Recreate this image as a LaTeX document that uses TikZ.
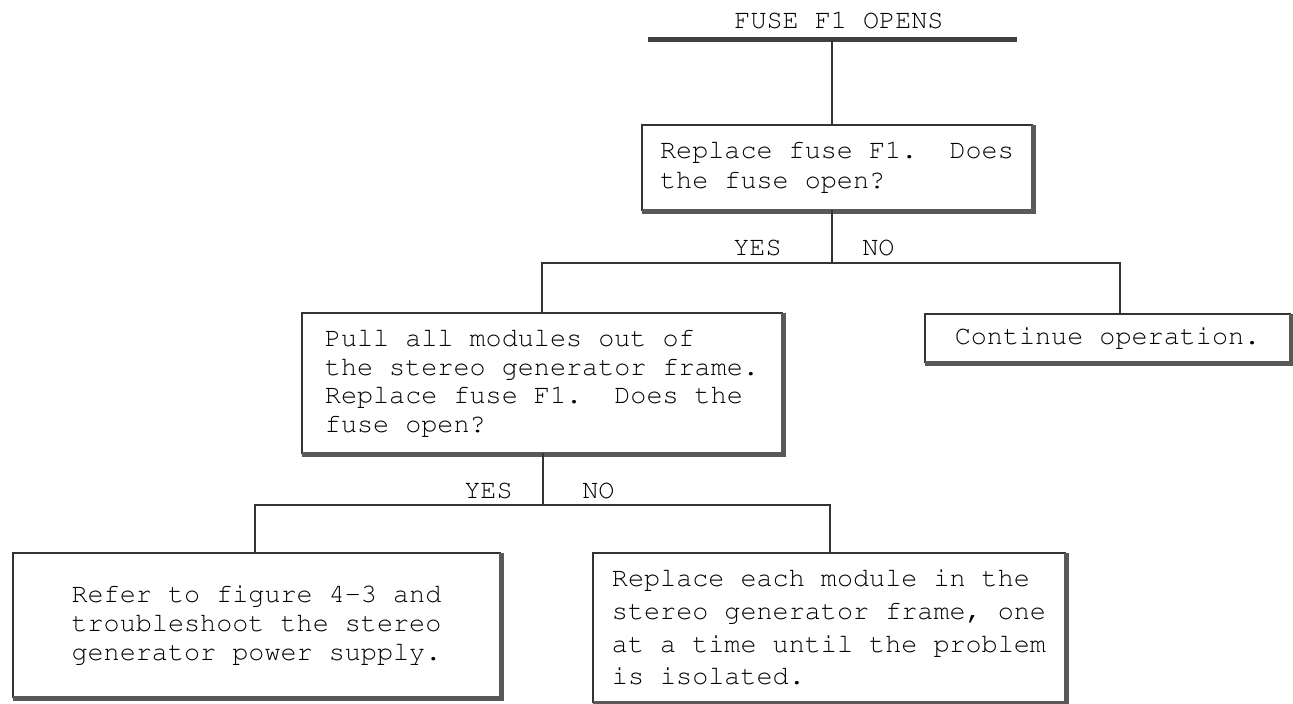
\documentclass[tikz,border=0pt]{standalone}
\usepackage[T1]{fontenc}
\newcommand\courfont[1]{\fontencoding{T1}\fontfamily{pcr}\fontseries{m}\fontsize{13.4pt}{#1}\selectfont}
\begin{document}
\frenchspacing
\begin{tikzpicture}[x=0.5pt,y=-0.5pt,
  txt/.style={font=\courfont{15pt}, text=black},
  box/.style={txt, draw=black!80, line width=1pt, fill=white, align=left, inner sep=0pt, outer sep=0pt},
  conn/.style={draw=black!80, line width=1pt},
  shadowline/.style={draw=black!65, line width=2.5pt},
  lbl/.style={txt, inner sep=0pt}]
\path[use as bounding box] (0,0) rectangle (1293,704);

% title and bar
\node[lbl] (title) at (839,20) {FUSE F1 OPENS};
\coordinate (barL) at (648,40);
\coordinate (barR) at (1017,40);
\coordinate (bar) at (832,40);
\draw[draw=black!75, line width=2.5pt] (barL) -- (barR);

% boxes
\node[box, minimum width=195pt, minimum height=42.5pt, font=\courfont{15pt}] (b1) at (837,167.5)
  {Replace fuse F1.\ \ Does\\the fuse open?};
\node[box, minimum width=240pt, minimum height=70pt, font=\courfont{14.3pt}] (b2) at (542,383)
  {Pull all modules out of\\the stereo generator frame.\\Replace fuse F1.\ \ Does the\\fuse open?};
\node[box, minimum width=182.5pt, minimum height=24pt] (b5) at (1107.5,338)
  {Continue operation.};
\node[box, minimum width=243.5pt, minimum height=72pt, font=\courfont{14.6pt}] (b3) at (256.5,625)
  {Refer to figure 4-3 and\\troubleshoot the stereo\\generator power supply.};
\node[box, minimum width=236pt, minimum height=74.5pt, font=\courfont{16.3pt}] (b4) at (829,627.5)
  {Replace each module in the\\stereo generator frame, one\\at a time until the problem\\is isolated.};

% shadows
\foreach \n in {b1,b2,b3,b4,b5}{
  \draw[shadowline] ([xshift=0.75pt]\n.north east) -- ([xshift=0.75pt,yshift=-0.75pt]\n.south east) -- ([yshift=-0.75pt]\n.south west);
}

% connectors level 1
\draw[conn] (bar) -- (bar |- b1.north);
\coordinate (j1) at (832,263);
\coordinate (d2) at (542,263);
\coordinate (d5) at (1120,263);
\draw[conn] (b1.south -| j1) -- (j1);
\draw[conn] (d2 |- b2.north) -- (d2) -- (d5) -- (d5 |- b5.north);
\node[lbl, anchor=east] (yes1) at (782,248) {YES};
\node[lbl, anchor=west] (no1) at (862,248) {NO};

% connectors level 2
\coordinate (j2) at (543,505);
\coordinate (d3) at (255,505);
\coordinate (d4) at (830,505);
\draw[conn] (b2.south -| j2) -- (j2);
\draw[conn] (d3 |- b3.north) -- (d3) -- (d4) -- (d4 |- b4.north);
\node[lbl, anchor=east] (yes2) at (513,491) {YES};
\node[lbl, anchor=west] (no2) at (582,491) {NO};
\end{tikzpicture}
\end{document}
